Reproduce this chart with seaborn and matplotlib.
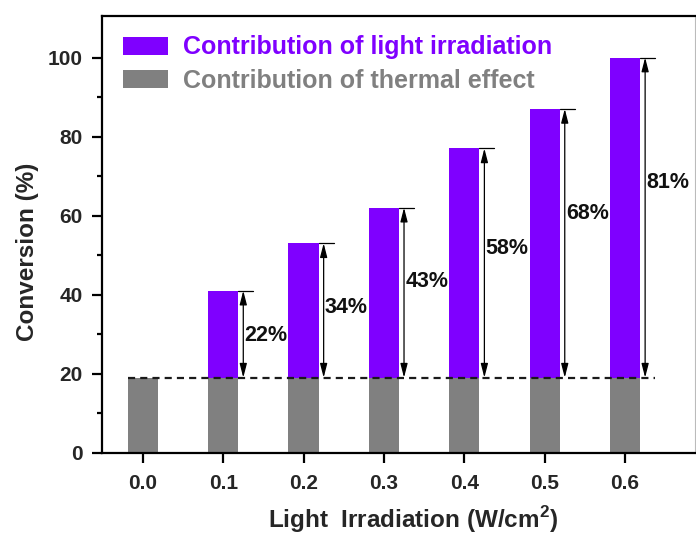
import matplotlib
matplotlib.use("Agg")
import matplotlib.pyplot as plt
import seaborn as sns
import pandas as pd
from matplotlib.patches import Patch

# ---- data ----
irradiation = ["0.0", "0.1", "0.2", "0.3", "0.4", "0.5", "0.6"]
total_conversion = [19, 41, 53, 62, 77, 87, 100]
thermal_conversion = [19, 19, 19, 19, 19, 19, 19]
light_pct = [None, 22, 34, 43, 58, 68, 81]
label_y = [None, 29.6, 36.8, 43.3, 51.6, 60.5, 68.4]
y_ticks = [0, 20, 40, 60, 80, 100]

purple = "#7F00FF"
gray = "#808080"

sns.set_theme(style="white")
plt.rcParams["font.family"] = ["Liberation Sans", "DejaVu Sans"]
plt.rcParams["font.weight"] = "bold"
plt.rcParams["mathtext.fontset"] = "custom"
plt.rcParams["mathtext.bf"] = "Liberation Sans:bold"

df = pd.DataFrame({"irr": irradiation, "total": total_conversion,
                   "thermal": thermal_conversion})

fig = plt.figure(figsize=(6.96, 5.36), dpi=100)
ax = fig.add_axes([0.147, 0.1554, 0.8515, 0.8146])

bw = 0.375
sns.barplot(data=df, x="irr", y="total", color=purple, width=bw,
            saturation=1, ax=ax, edgecolor="none")
sns.barplot(data=df, x="irr", y="thermal", color=gray, width=bw,
            saturation=1, ax=ax, edgecolor="none")

base = thermal_conversion[0]
off = 0.25
# dashed baseline
ax.plot([-bw / 2, len(irradiation) - 1 + 0.376], [base, base],
        linestyle=(0, (3.2, 2.3)), color="#1a1a1a", lw=1.6, zorder=3)

for i in range(1, len(irradiation)):
    top = total_conversion[i]
    ax.annotate("", xy=(i + off, top), xytext=(i + off, base),
                arrowprops=dict(arrowstyle="<|-|>,head_length=0.7,head_width=0.18",
                                color="black", lw=0.9, shrinkA=0, shrinkB=0),
                zorder=4)
    ax.plot([i + bw / 2, i + 0.375], [top, top], color="black", lw=0.9, zorder=4)
    ax.text(i + off + 0.015, label_y[i], f"{light_pct[i]}%", ha="left",
            va="center", fontsize=15.5, fontweight="bold", color="#111111")

ax.set_xlim(-0.504, 6.87)
ax.set_ylim(0, 110.5)
ax.set_yticks(y_ticks)
ax.set_yticks([10, 30, 50, 70, 90], minor=True)
ax.set_xticks(range(len(irradiation)))
ax.set_xticklabels(irradiation)

for s in ["left", "bottom", "top"]:
    ax.spines[s].set_visible(True)
    ax.spines[s].set_color("black")
    ax.spines[s].set_linewidth(1.6)
ax.spines["right"].set_color("#bbbbbb")
ax.spines["right"].set_linewidth(0.8)

ax.tick_params(axis="both", which="major", direction="out", length=7,
               width=1.6, color="black", labelsize=15)
ax.tick_params(axis="y", which="major", pad=7)
ax.tick_params(axis="x", which="major", pad=8)
ax.tick_params(axis="y", which="minor", direction="out", length=3.5,
               width=1.6, color="black", left=True)
ax.tick_params(axis="y", which="both", left=True, right=False)
ax.tick_params(axis="x", which="both", bottom=True, top=False)
for lab in ax.get_xticklabels() + ax.get_yticklabels():
    lab.set_fontweight("bold")

ax.set_xlabel("Light  Irradiation (W/cm$^\\mathbf{2}$)", fontsize=17.5,
              fontweight="bold")
ax.xaxis.set_label_coords(0.525, -0.118)
ax.set_ylabel("Conversion (%)", fontsize=17.5, fontweight="bold")
ax.yaxis.set_label_coords(-0.107, 0.46)

handles = [Patch(facecolor=purple, edgecolor="none"),
           Patch(facecolor=gray, edgecolor="none")]
leg = ax.legend(handles, ["Contribution of light irradiation",
                          "Contribution of thermal effect"],
                loc="upper left", bbox_to_anchor=(0.01, 0.99), frameon=False,
                prop={"size": 18, "weight": "bold"}, handlelength=1.8,
                handleheight=0.72, handletextpad=0.6, labelspacing=0.38,
                borderaxespad=0.2)
leg.get_texts()[0].set_color(purple)
leg.get_texts()[1].set_color(gray)

fig.savefig("out.png", dpi=100)
